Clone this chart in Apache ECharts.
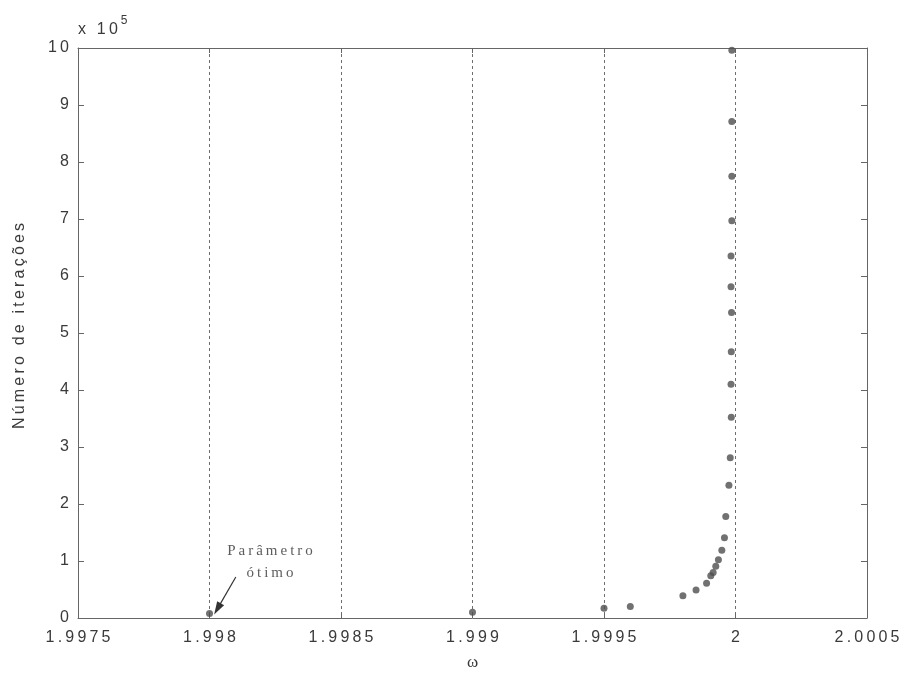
<!DOCTYPE html>
<html>
<head>
<meta charset="utf-8">
<script src="https://cdn.jsdelivr.net/npm/echarts@6/dist/echarts.min.js"></script>
<style>
  html, body { margin: 0; padding: 0; background: #fff; }
  #chart { width: 908px; height: 677px; }
</style>
</head>
<body>
<div id="chart"></div>
<script>
// parâmetro de relaxação ω
const omega = [
  1.998, 1.999, 1.9995, 1.9996, 1.9998, 1.99985, 1.99989, 1.999906,
  1.999915, 1.999925, 1.999935, 1.999948, 1.999958, 1.999963, 1.999975,
  1.99998, 1.999984, 1.999983, 1.999984, 1.999985, 1.999983, 1.999983,
  1.999986, 1.999986, 1.999986, 1.999986
];
// número de iterações (x 10^5)
const iteracoes = [
  0.08, 0.10, 0.17, 0.20, 0.39, 0.49, 0.61, 0.74,
  0.80, 0.91, 1.02, 1.19, 1.41, 1.78, 2.33,
  2.81, 3.52, 4.10, 4.67, 5.36, 5.81, 6.35,
  6.97, 7.75, 8.71, 9.96
];
const xTicks = [1.9975, 1.998, 1.9985, 1.999, 1.9995, 2, 2.0005];
const yTicks = [0, 1, 2, 3, 4, 5, 6, 7, 8, 9, 10];

// anotação "Parâmetro ótimo"
const notaPos = [1.99823, 0.98];
const setaDe = [1.99810, 0.72];
const setaAte = [1.99803, 0.16];

// espaçamento das letras como no original
const spread = s => s.split('').join('\u2009');

const chart = echarts.init(document.getElementById('chart'));

const points = omega.map((w, i) => [w, iteracoes[i]]);
const axisColor = '#666';
const textColor = '#3a3a3a';

const option = {
  animation: false,
  grid: { left: 78, right: 41, top: 48, bottom: 59 },
  xAxis: [
    {
      type: 'value',
      min: xTicks[0],
      max: xTicks[xTicks.length - 1],
      interval: 0.0005,
      name: 'ω',
      nameLocation: 'middle',
      nameGap: 36,
      nameTextStyle: { fontFamily: 'Liberation Serif', fontSize: 17, color: textColor },
      axisLine: { lineStyle: { color: axisColor, width: 1 } },
      axisTick: { show: true, inside: true, length: 5, lineStyle: { color: axisColor } },
      axisLabel: {
        margin: 12,
        color: textColor,
        fontFamily: 'Liberation Sans',
        fontSize: 16,
        showMinLabel: true,
        showMaxLabel: true,
        formatter: v => spread(String(+v.toFixed(4)))
      },
      splitLine: {
        show: true,
        lineStyle: { color: '#6e6e6e', type: [3, 3], width: 1 }
      }
    },
    {
      type: 'value',
      position: 'top',
      min: xTicks[0],
      max: xTicks[xTicks.length - 1],
      interval: 0.0005,
      axisLine: { show: true, onZero: false, lineStyle: { color: axisColor } },
      axisTick: { show: true, inside: true, length: 5, lineStyle: { color: axisColor } },
      axisLabel: { show: false },
      splitLine: { show: false }
    }
  ],
  yAxis: [
    {
      type: 'value',
      min: 0,
      max: 10,
      interval: 1,
      name: '{a|' + spread('x 10') + '}{b|5}',
      nameLocation: 'end',
      nameGap: 3,
      nameTextStyle: {
        align: 'left',
        rich: {
          a: { fontFamily: 'Liberation Sans', fontSize: 16, color: textColor },
          b: { fontFamily: 'Liberation Sans', fontSize: 12, color: textColor, padding: [0, 0, 18, 3] }
        }
      },
      axisLine: { show: true, lineStyle: { color: axisColor, width: 1 } },
      axisTick: { show: true, inside: true, length: 6, lineStyle: { color: axisColor } },
      axisLabel: {
        margin: 9,
        color: textColor,
        fontFamily: 'Liberation Sans',
        fontSize: 16,
        formatter: v => spread(String(v))
      },
      splitLine: { show: false }
    },
    {
      type: 'value',
      position: 'right',
      min: 0,
      max: 10,
      interval: 1,
      axisLine: { show: true, onZero: false, lineStyle: { color: axisColor } },
      axisTick: { show: true, inside: true, length: 6, lineStyle: { color: axisColor } },
      axisLabel: { show: false },
      splitLine: { show: false }
    }
  ],
  graphic: [
    {
      type: 'text',
      x: 20,
      y: 326,
      rotation: Math.PI / 2,
      style: {
        text: spread('Número de iterações'),
        fontFamily: 'Liberation Sans',
        fontSize: 16,
        fill: textColor,
        align: 'center',
        verticalAlign: 'middle'
      }
    }
  ],
  series: [
    {
      name: 'iterações',
      type: 'scatter',
      data: points,
      symbol: 'circle',
      symbolSize: 7,
      itemStyle: { color: '#4e4e4e' },
      z: 5
    },
    {
      name: 'anotação',
      type: 'scatter',
      data: [notaPos],
      symbolSize: 0,
      silent: true,
      label: {
        show: true,
        position: 'inside',
        formatter: spread('Parâmetro') + '\n' + spread('ótimo'),
        fontFamily: 'Liberation Serif',
        fontSize: 15,
        lineHeight: 22,
        color: '#333'
      },
      markLine: {
        silent: true,
        animation: false,
        symbol: ['none', 'triangle'],
        symbolSize: [8, 13],
        label: { show: false },
        lineStyle: { color: '#333', width: 1.2, type: 'solid' },
        data: [[{ coord: setaDe }, { coord: setaAte }]]
      }
    }
  ]
};

chart.setOption(option);
</script>
</body>
</html>
